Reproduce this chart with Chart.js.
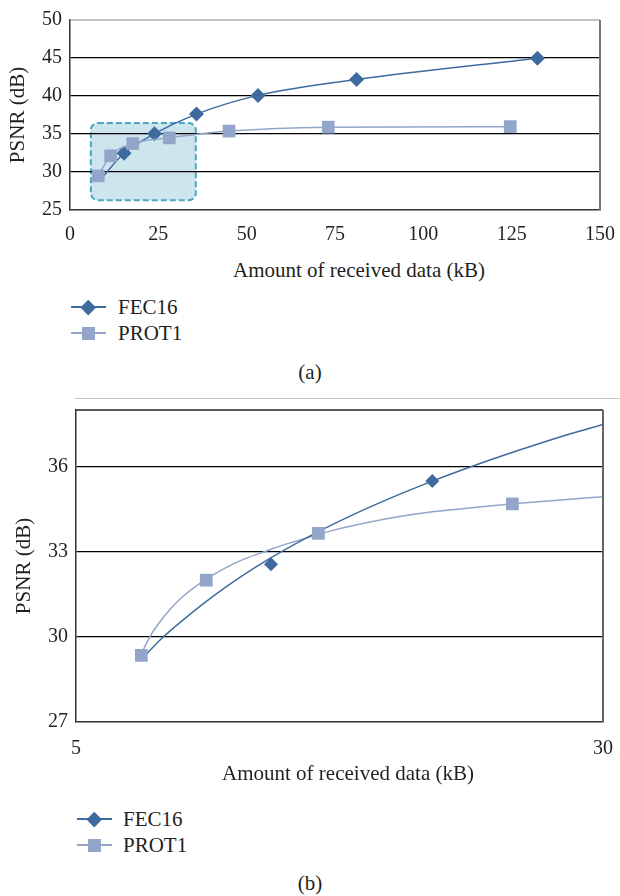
<!DOCTYPE html>
<html>
<head>
<meta charset="utf-8">
<script src="https://cdn.jsdelivr.net/npm/chart.js@4.4.1/dist/chart.umd.min.js"></script>
<style>
body { margin: 0; background: #fff; font-family: "Liberation Serif", "Times New Roman", Times, "DejaVu Serif", serif; color: #231f20; }
#page { position: relative; width: 620px; height: 896px; overflow: hidden; background: #fff; }
canvas { position: absolute; left: 0; }
.lbl { position: absolute; font-size: 21px; white-space: nowrap; transform: translate(-50%, -50%); }
.leg { position: absolute; height: 26px; }
.leg .ln { position: absolute; top: 12px; height: 2px; }
.leg .mk { position: absolute; }
.leg .tx { position: absolute; font-size: 21px; top: 50%; transform: translateY(-50%); white-space: nowrap; }
.sep { position: absolute; left: 75px; right: 0; top: 398px; height: 1px; background: #c4c4c4; }
</style>
</head>
<body>
<div id="page">
  <canvas id="chartA" width="620" height="250" style="top:0"></canvas>
  <div class="lbl" style="left:359px; top:270px">Amount of received data (kB)</div>
  <div id="legendA"></div>
  <div class="lbl" style="left:310px; top:372px">(a)</div>
  <div class="sep"></div>
  <canvas id="chartB" width="620" height="375" style="top:390px"></canvas>
  <div class="lbl" style="left:348px; top:773px">Amount of received data (kB)</div>
  <div id="legendB"></div>
  <div class="lbl" style="left:310px; top:883px">(b)</div>
</div>
<script>
// (a) full range
const fecAx = [8.6, 15.3, 23.9, 35.8, 53.2, 81.1, 132.3];
const fecAy = [29.0, 32.46, 35.04, 37.62, 40.08, 42.17, 44.97];
const protAx = [8.0, 11.5, 17.75, 28.1, 45.0, 73.1, 124.6];
const protAy = [29.49, 32.13, 33.74, 34.49, 35.38, 35.9, 35.97];
const xTicksA = [0, 25, 50, 75, 100, 125, 150];
const yTicksA = [25, 30, 35, 40, 45, 50];
const zoomBox = [5.9, 35.6, 26.28, 36.44]; // x from, x to, y from, y to

// (b) zoomed range, markers + trend curves
const fecBx = [14.25, 21.9];
const fecBy = [32.56, 35.5];
const protBx = [8.1, 11.18, 16.5, 25.7];
const protBy = [29.35, 32.0, 33.65, 34.69];
const fecTrendX = [8.1, 9, 10, 12, 14, 16, 18, 20, 22, 24, 26, 28, 30];
const fecTrendY = [29.2, 29.9, 30.55, 31.7, 32.68, 33.52, 34.26, 34.92, 35.52, 36.07, 36.58, 37.06, 37.49];
const protTrendX = [8.1, 8.5, 9, 9.5, 10, 11, 12, 13, 14, 15, 16, 17, 18, 20, 22, 24, 26, 28, 30];
const protTrendY = [29.4, 30.0, 30.55, 31.0, 31.38, 31.95, 32.4, 32.75, 33.02, 33.28, 33.5, 33.72, 33.9, 34.2, 34.42, 34.57, 34.71, 34.83, 34.94];
const xTicksB = [5, 30];
const yTicksB = [27, 30, 33, 36];

const FEC_COLOR = '#3e6b9f';
const PROT_COLOR = '#93a6ca';
const TEXT = '#231f20';
const FONT = '"Liberation Serif", "Times New Roman", Times, "DejaVu Serif", serif';

const pts = (xs, ys) => xs.map((x, i) => ({ x: x, y: ys[i] }));

const zoomBoxPlugin = {
    id: 'zoomBox',
    beforeDraw(chart, args, opts) {
        if (!opts.box) return;
        const { x, y } = chart.scales;
        const l = x.getPixelForValue(opts.box[0]);
        const r = x.getPixelForValue(opts.box[1]);
        const b = y.getPixelForValue(opts.box[2]);
        const t = y.getPixelForValue(opts.box[3]);
        const ctx = chart.ctx;
        ctx.save();
        ctx.beginPath();
        ctx.roundRect(l, t, r - l, b - t, 7);
        ctx.fillStyle = '#cde6ee';
        ctx.fill();
        ctx.setLineDash([6, 3]);
        ctx.lineWidth = 2;
        ctx.strokeStyle = '#4aa6be';
        ctx.stroke();
        ctx.restore();
    }
};

// top and right edges of the plot box
const framePlugin = {
    id: 'frame',
    afterDraw(chart, args, opts) {
        const a = chart.chartArea;
        const ctx = chart.ctx;
        ctx.save();
        ctx.lineWidth = opts.topWidth;
        ctx.strokeStyle = opts.top;
        ctx.beginPath();
        ctx.moveTo(a.left, a.top);
        ctx.lineTo(a.right, a.top);
        ctx.stroke();
        ctx.lineWidth = 2;
        ctx.strokeStyle = opts.right;
        ctx.beginPath();
        ctx.moveTo(a.right, a.top);
        ctx.lineTo(a.right, a.bottom);
        ctx.stroke();
        ctx.restore();
    }
};

function axes(xMin, xMax, xTicks, yMin, yMax, yTicks, yWidth, xHeight, yTitlePad, xPad) {
    return {
        x: {
            type: 'linear', min: xMin, max: xMax,
            afterBuildTicks: s => { s.ticks = xTicks.map(v => ({ value: v })); },
            afterFit: s => { s.height = xHeight; },
            grid: { display: false },
            border: { display: true, color: '#333', width: 1.5 },
            ticks: { color: TEXT, padding: xPad, font: { family: FONT, size: 20 }, maxRotation: 0 }
        },
        y: {
            min: yMin, max: yMax,
            afterBuildTicks: s => { s.ticks = yTicks.map(v => ({ value: v })); },
            afterFit: s => { s.width = yWidth; },
            grid: {
                drawTicks: false, lineWidth: 1.2,
                color: c => (c.tick && c.tick.value > yMin && c.tick.value < yMax) ? '#000' : 'rgba(0,0,0,0)'
            },
            border: { display: true, color: '#333', width: 1.5 },
            ticks: { color: TEXT, padding: 8, font: { family: FONT, size: 20 } },
            title: { display: true, text: 'PSNR (dB)', color: TEXT, padding: { top: yTitlePad, bottom: 0 }, font: { family: FONT, size: 21 } }
        }
    };
}

const chartA = new Chart(document.getElementById('chartA'), {
    type: 'line',
    data: {
        datasets: [
            {
                label: 'FEC16', data: pts(fecAx, fecAy), order: 2,
                borderColor: FEC_COLOR, backgroundColor: FEC_COLOR, borderWidth: 1.5,
                pointStyle: 'rectRot', pointRadius: fecAx.map((v, i) => i === 0 ? 0 : 7.5), pointBorderWidth: 0,
                cubicInterpolationMode: 'monotone'
            },
            {
                label: 'PROT1', data: pts(protAx, protAy), order: 1,
                borderColor: PROT_COLOR, backgroundColor: PROT_COLOR, borderWidth: 1.5,
                pointStyle: 'rect', pointRadius: 9, pointBorderWidth: 0,
                cubicInterpolationMode: 'monotone'
            }
        ]
    },
    options: {
        responsive: false, animation: false, devicePixelRatio: 1,
        layout: { padding: { left: 0, right: 20, top: 14, bottom: 0 } },
        scales: axes(0, 150, xTicksA, 25, 50, yTicksA, 70, 40, 6, 5),
        plugins: {
            legend: { display: false }, tooltip: { enabled: false },
            zoomBox: { box: zoomBox },
            frame: { top: '#8a8a8a', topWidth: 1.2, right: '#777' }
        }
    },
    plugins: [zoomBoxPlugin, framePlugin]
});

const chartB = new Chart(document.getElementById('chartB'), {
    type: 'line',
    data: {
        datasets: [
            {
                label: 'FEC16', data: pts(fecBx, fecBy), order: 2, showLine: false,
                borderColor: FEC_COLOR, backgroundColor: FEC_COLOR,
                pointStyle: 'rectRot', pointRadius: 7, pointBorderWidth: 0
            },
            {
                label: 'PROT1', data: pts(protBx, protBy), order: 1, showLine: false,
                borderColor: PROT_COLOR, backgroundColor: PROT_COLOR,
                pointStyle: 'rect', pointRadius: 9, pointBorderWidth: 0
            },
            {
                label: 'FEC16 trend', data: pts(fecTrendX, fecTrendY), order: 3,
                borderColor: FEC_COLOR, borderWidth: 1.5, pointRadius: 0,
                cubicInterpolationMode: 'monotone'
            },
            {
                label: 'PROT1 trend', data: pts(protTrendX, protTrendY), order: 4,
                borderColor: PROT_COLOR, borderWidth: 1.5, pointRadius: 0,
                cubicInterpolationMode: 'monotone'
            }
        ]
    },
    options: {
        responsive: false, animation: false, devicePixelRatio: 1,
        layout: { padding: { left: 0, right: 15, top: 10, bottom: 0 } },
        scales: axes(5, 30, xTicksB, 27, 38, yTicksB, 76, 43, 12, 7),
        plugins: {
            legend: { display: false }, tooltip: { enabled: false },
            frame: { top: '#222', topWidth: 1.5, right: '#666' }
        }
    },
    plugins: [framePlugin]
});

// legend below each panel, built from the chart's own datasets
function buildLegend(chart, holder, left, lineLen, textX, rowsY) {
    const el = document.getElementById(holder);
    chart.data.datasets.slice(0, 2).forEach((ds, i) => {
        const item = document.createElement('div');
        item.className = 'leg';
        item.style.left = left + 'px';
        item.style.top = (rowsY[i] - 13) + 'px';
        item.style.width = (textX - left + 80) + 'px';
        const ln = document.createElement('div');
        ln.className = 'ln';
        ln.style.left = '0px';
        ln.style.width = lineLen + 'px';
        ln.style.background = ds.borderColor;
        const mk = document.createElement('div');
        mk.className = 'mk';
        const c = lineLen / 2;
        if (ds.pointStyle === 'rectRot') {
            mk.style.width = '10.5px'; mk.style.height = '10.5px';
            mk.style.left = (c - 5.25) + 'px'; mk.style.top = (13 - 5.25) + 'px';
            mk.style.transform = 'rotate(45deg)';
        } else {
            mk.style.width = '13px'; mk.style.height = '13px';
            mk.style.left = (c - 6.5) + 'px'; mk.style.top = (13 - 6.5) + 'px';
        }
        mk.style.background = ds.backgroundColor;
        const tx = document.createElement('div');
        tx.className = 'tx';
        tx.style.left = (textX - left) + 'px';
        tx.textContent = ds.label;
        item.appendChild(ln);
        item.appendChild(mk);
        item.appendChild(tx);
        el.appendChild(item);
    });
}

buildLegend(chartA, 'legendA', 71, 35, 118, [307, 333]);
buildLegend(chartB, 'legendB', 77, 35, 123, [819, 845]);
</script>
</body>
</html>
